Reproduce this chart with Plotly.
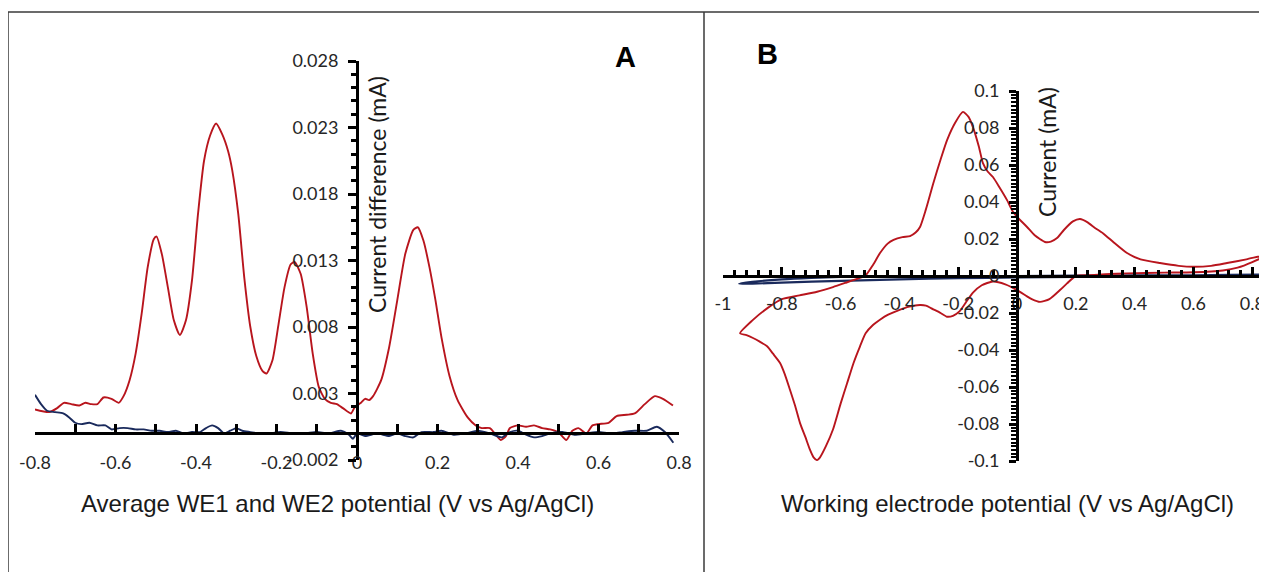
import plotly.graph_objects as go

W, H = 1267, 572

# ---------------- Panel A data (DPV current difference) ----------------
a_red_x = [-0.80, -0.765, -0.745, -0.728, -0.71, -0.69, -0.675, -0.66, -0.645, -0.63, -0.61, -0.592,
           -0.58, -0.565, -0.55, -0.535, -0.52, -0.505, -0.498, -0.485, -0.47, -0.455, -0.44, -0.425,
           -0.41, -0.395, -0.38, -0.365, -0.35, -0.335, -0.32, -0.31, -0.295, -0.28, -0.265, -0.25,
           -0.235, -0.225, -0.21, -0.195, -0.18, -0.165, -0.155, -0.14, -0.125, -0.11, -0.095, -0.08,
           -0.065, -0.05, -0.035, -0.015, -0.005, 0.01, 0.02, 0.03, 0.04, 0.06, 0.08, 0.10, 0.12, 0.14,
           0.151, 0.165, 0.18, 0.195, 0.21, 0.23, 0.25, 0.275, 0.295, 0.31, 0.33, 0.345, 0.357, 0.37,
           0.38, 0.40, 0.42, 0.44, 0.46, 0.48, 0.50, 0.52, 0.535, 0.55, 0.57, 0.585, 0.60, 0.625, 0.645,
           0.67, 0.69, 0.715, 0.74, 0.76, 0.785]
a_red_y = [0.0018, 0.0016, 0.0019, 0.0023, 0.0022, 0.0021, 0.0023, 0.0022, 0.0022, 0.0027, 0.0026, 0.0023,
           0.0028, 0.0040, 0.0060, 0.0090, 0.0125, 0.0146, 0.0148, 0.0135, 0.0110, 0.0085, 0.0074, 0.0085,
           0.0115, 0.0165, 0.0205, 0.0224, 0.0233, 0.0225, 0.0212, 0.0198, 0.0165, 0.0117, 0.0080, 0.0058,
           0.0047, 0.0045, 0.0055, 0.0082, 0.0110, 0.0127, 0.0129, 0.0120, 0.0095, 0.0060, 0.0035, 0.0026,
           0.0023, 0.0022, 0.0019, 0.0015, 0.0020, 0.0023, 0.0026, 0.0025, 0.0028, 0.0040, 0.0065, 0.0100,
           0.0135, 0.0153, 0.0155, 0.0145, 0.0125, 0.0100, 0.0072, 0.0043, 0.0025, 0.0012, 0.0006, 0.0004,
           0.0004, -0.0001, -0.0005, -0.0002, 0.0004, 0.0006, 0.0005, 0.0006, 0.0004, 0.0003, 0.0001,
           -0.0005, 0.0002, 0.0004, 0.0000, 0.0006, 0.0007, 0.0008, 0.0013, 0.0014, 0.0015, 0.0022, 0.0028,
           0.0026, 0.0021]

a_blue_x = [-0.80, -0.785, -0.77, -0.75, -0.73, -0.715, -0.70, -0.685, -0.665, -0.645, -0.625, -0.61,
            -0.59, -0.57, -0.55, -0.53, -0.51, -0.49, -0.47, -0.45, -0.43, -0.41, -0.39, -0.375, -0.36,
            -0.345, -0.33, -0.315, -0.30, -0.285, -0.265, -0.245, -0.22, -0.19, -0.16, -0.13, -0.10,
            -0.07, -0.04, -0.02, -0.01, 0.0, 0.02, 0.05, 0.08, 0.10, 0.12, 0.14, 0.16, 0.19, 0.21, 0.24,
            0.27, 0.30, 0.33, 0.36, 0.38, 0.40, 0.42, 0.44, 0.46, 0.48, 0.51, 0.54, 0.57, 0.60, 0.63,
            0.66, 0.69, 0.72, 0.745, 0.765, 0.786]
a_blue_y = [0.0029, 0.0022, 0.0017, 0.0016, 0.0015, 0.0012, 0.0008, 0.0007, 0.0008, 0.0006, 0.0006, 0.0003,
            0.0004, 0.0004, 0.0003, 0.0003, 0.0002, 0.0002, 0.0001, 0.0002, 0.0000, 0.0001, 0.0001, 0.0004,
            0.0006, 0.0004, 0.0000, 0.0002, 0.0004, 0.0002, 0.0001, 0.0000, 0.0000, 0.0001, 0.0000, 0.0000,
            0.0001, 0.0000, 0.0002, -0.0001, -0.0004, 0.0000, -0.0002, 0.0000, -0.0002, 0.0000, -0.0002,
            -0.0003, 0.0001, 0.0001, 0.0002, -0.0001, 0.0000, 0.0002, 0.0000, -0.0003, 0.0001, 0.0002,
            -0.0001, -0.0003, -0.0002, 0.0000, 0.0001, -0.0001, 0.0000, 0.0001, 0.0000, 0.0001, 0.0002,
            0.0002, 0.0005, 0.0001, -0.0007]

a_xtick_vals = [-0.8, -0.6, -0.4, -0.2, 0.0, 0.2, 0.4, 0.6, 0.8]
a_xtick_text = ["-0.8", "-0.6", "-0.4", "-0.2", "0", "0.2", "0.4", "0.6", "0.8"]
a_ytick_vals = [-0.002, 0.003, 0.008, 0.013, 0.018, 0.023, 0.028]
a_ytick_text = ["-0.002", "0.003", "0.008", "0.013", "0.018", "0.023", "0.028"]

# ---------------- Panel B data (cyclic voltammogram) ----------------
b_red_x = [-0.942, -0.90, -0.85, -0.80, -0.74, -0.68, -0.626, -0.58, -0.544, -0.517, -0.49, -0.466,
           -0.44, -0.42, -0.39, -0.364, -0.345, -0.33, -0.31, -0.285, -0.26, -0.238, -0.21, -0.184,
           -0.165, -0.15, -0.13, -0.116, -0.10, -0.082, -0.06, -0.034, -0.015, 0.0, 0.034, 0.06, 0.095,
           0.115, 0.136, 0.16, 0.19, 0.214, 0.24, 0.265, 0.293, 0.33, 0.374, 0.42, 0.486, 0.55, 0.60,
           0.66, 0.714, 0.78, 0.85,
           0.80, 0.75, 0.70, 0.60, 0.50, 0.374, 0.30, 0.25, 0.20, 0.17, 0.146, 0.11, 0.078, 0.05, 0.034,
           0.0, -0.04, -0.082, -0.12, -0.15, -0.175, -0.195, -0.218, -0.238, -0.26, -0.285, -0.31, -0.33,
           -0.355, -0.374, -0.41, -0.44, -0.465, -0.49, -0.515, -0.534, -0.556, -0.578, -0.60, -0.626,
           -0.65, -0.67, -0.68, -0.692, -0.704, -0.72, -0.738, -0.755, -0.772, -0.79, -0.806, -0.83,
           -0.85, -0.875, -0.898, -0.92, -0.942]
b_red_y = [-0.031, -0.024, -0.0175, -0.0125, -0.0105, -0.0085, -0.006, -0.0035, -0.0015, 0.000, 0.006,
           0.0124, 0.0175, 0.0195, 0.0210, 0.0216, 0.0235, 0.0265, 0.036, 0.050, 0.063, 0.0735, 0.083,
           0.0887, 0.086, 0.0805, 0.070, 0.061, 0.0565, 0.0535, 0.048, 0.041, 0.035, 0.032, 0.0265, 0.022,
           0.0184, 0.0186, 0.0205, 0.025, 0.0295, 0.0308, 0.029, 0.026, 0.023, 0.018, 0.0124, 0.009, 0.007,
           0.0055, 0.005, 0.0055, 0.007, 0.009, 0.0114,
           0.0075, 0.0045, 0.003, 0.002, 0.0018, 0.0014, 0.0010, 0.0005, 0.000, -0.004, -0.0076, -0.0125,
           -0.0140, -0.0125, -0.011, -0.0076, -0.0045, -0.003, -0.005, -0.009, -0.0145, -0.019, -0.0215,
           -0.022, -0.020, -0.018, -0.016, -0.0157, -0.0162, -0.0168, -0.019, -0.021, -0.0235, -0.0265,
           -0.031, -0.038, -0.047, -0.058, -0.069, -0.083, -0.092, -0.098, -0.0995, -0.098, -0.094, -0.087,
           -0.0795, -0.070, -0.0616, -0.053, -0.047, -0.042, -0.038, -0.0355, -0.0335, -0.032, -0.031]

b_blue_x = [-0.945, -0.90, -0.80, -0.70, -0.60, -0.50, -0.40, -0.20, 0.0, 0.20, 0.40, 0.60, 0.85,
            0.60, 0.40, 0.20, 0.0, -0.20, -0.40, -0.60, -0.80, -0.90, -0.945]
b_blue_y = [-0.0042, -0.0032, -0.0018, -0.0010, -0.0005, -0.0003, -0.0002, -0.0001, 0.0, 0.0002, 0.0003,
            0.0004, 0.0008, -0.0001, -0.0003, -0.0005, -0.0008, -0.0012, -0.0018, -0.0026, -0.0036,
            -0.0041, -0.0042]

b_xtick_vals = [-1.0, -0.8, -0.6, -0.4, -0.2, 0.0, 0.2, 0.4, 0.6, 0.8]
b_xtick_text = ["-1", "-0.8", "-0.6", "-0.4", "-0.2", "0", "0.2", "0.4", "0.6", "0.8"]
b_ytick_vals = [-0.1, -0.08, -0.06, -0.04, -0.02, 0.0, 0.02, 0.04, 0.06, 0.08, 0.1]
b_ytick_text = ["-0.1", "-0.08", "-0.06", "-0.04", "-0.02", "0", "0.02", "0.04", "0.06", "0.08", "0.1"]

RED = "#b8151d"
BLUE = "#1a2a5c"
TICKFONT = dict(family="Lato", size=18, color="#262626")

# ---------------- geometry (page pixels -> paper) ----------------
# the page body adds an 8 px offset to the plot div, compensate for it
OFF = 8

def px(x):
    return (x - OFF) / W

def py(y):
    return (H - (y - OFF)) / H

a_xr = [-0.8, 0.8]
a_yr = [-0.002, 0.028]
a_xd = [px(35), px(679)]
a_yd = [py(460), py(61)]
b_xr = [-1.0, 0.85]
b_yr = [-0.1, 0.1]
b_xd = [px(723), px(1267)]
b_yd = [py(461), py(91)]

def zero_pos(rng, dom):
    return dom[0] + (0 - rng[0]) / (rng[1] - rng[0]) * (dom[1] - dom[0])

fig = go.Figure()
fig.add_trace(go.Scatter(x=a_red_x, y=a_red_y, mode="lines", line=dict(color=RED, width=1.9, shape="spline", smoothing=0.6),
                         xaxis="x", yaxis="y", showlegend=False))
fig.add_trace(go.Scatter(x=a_blue_x, y=a_blue_y, mode="lines", line=dict(color=BLUE, width=1.9, shape="spline", smoothing=0.6),
                         xaxis="x", yaxis="y", showlegend=False))
fig.add_trace(go.Scatter(x=b_blue_x, y=b_blue_y, mode="lines", line=dict(color=BLUE, width=2.2, shape="spline", smoothing=0.6),
                         xaxis="x2", yaxis="y2", showlegend=False))
fig.add_trace(go.Scatter(x=b_red_x, y=b_red_y, mode="lines", line=dict(color=RED, width=1.9, shape="spline", smoothing=0.6),
                         xaxis="x2", yaxis="y2", showlegend=False))

axis_common = dict(showgrid=False, zeroline=False, showline=True, linecolor="black", linewidth=3,
                   tickcolor="black", tickwidth=2.5, tickfont=TICKFONT, anchor="free", tickmode="array",
                   automargin=False)

fig.update_layout(
    width=W, height=H,
    margin=dict(l=0, r=0, t=0, b=0, pad=0, autoexpand=False),
    paper_bgcolor="white", plot_bgcolor="rgba(0,0,0,0)",
    xaxis=dict(axis_common, domain=a_xd, range=a_xr, position=zero_pos(a_yr, a_yd),
               tickvals=a_xtick_vals, ticktext=a_xtick_text, ticks="inside", ticklen=8,
               ticklabelstandoff=12,
               minor=dict(ticks="inside", ticklen=8, tickwidth=2.5, tickcolor="black", tickmode="linear",
                          tick0=-0.8, dtick=0.1)),
    yaxis=dict(axis_common, domain=a_yd, range=a_yr, position=zero_pos(a_xr, a_xd),
               tickvals=a_ytick_vals, ticktext=a_ytick_text, ticks="outside", ticklen=8,
               ticklabelstandoff=6,
               minor=dict(ticks="outside", ticklen=5, tickwidth=2.5, tickcolor="black", tickmode="linear",
                          tick0=-0.002, dtick=0.001)),
    xaxis2=dict(axis_common, domain=b_xd, range=b_xr, position=zero_pos(b_yr, b_yd),
                tickvals=b_xtick_vals, ticktext=b_xtick_text, ticks="inside", ticklen=8,
                ticklabelstandoff=10,
                minor=dict(ticks="inside", ticklen=5, tickwidth=2.5, tickcolor="black", tickmode="linear",
                           tick0=-1.0, dtick=0.04)),
    yaxis2=dict(axis_common, domain=b_yd, range=b_yr, position=zero_pos(b_xr, b_xd),
                tickvals=b_ytick_vals, ticktext=b_ytick_text, ticks="outside", ticklen=7,
                ticklabelstandoff=6,
                minor=dict(ticks="outside", ticklen=5, tickwidth=2, tickcolor="black", tickmode="linear",
                           tick0=-0.1, dtick=0.002)),
)

TITLEFONT = dict(family="Liberation Sans, Arial", size=24, color="#1a1a1a")
YTITLEFONT = dict(family="Lato", size=23, color="#1a1a1a")
LETTERFONT = dict(family="Liberation Sans, Arial", size=29, color="black")
annots = [
    dict(text="Average WE1 and WE2 potential (V vs Ag/AgCl)", x=px(338), y=py(503), font=TITLEFONT),
    dict(text="Working electrode potential (V vs Ag/AgCl)", x=px(1007), y=py(503), font=TITLEFONT),
    dict(text="Current difference (mA)", x=px(377), y=py(195), font=YTITLEFONT, textangle=-90),
    dict(text="Current (mA)", x=px(1047), y=py(152), font=YTITLEFONT, textangle=-90),
    dict(text="<b>A</b>", x=px(625), y=py(57), font=LETTERFONT),
    dict(text="<b>B</b>", x=px(767), y=py(54), font=LETTERFONT),
]
for a in annots:
    fig.add_annotation(xref="paper", yref="paper", showarrow=False, xanchor="center", yanchor="middle", **a)

frame = dict(type="line", xref="paper", yref="paper", line=dict(color="#3a3a3a", width=1.5))
fig.add_shape(frame, x0=px(8), x1=1.0, y0=py(12), y1=py(12))
fig.add_shape(frame, x0=px(8), x1=px(8), y0=py(12), y1=0)
fig.add_shape(frame, x0=px(704), x1=px(704), y0=py(12), y1=0)

fig.write_html("out.html")
